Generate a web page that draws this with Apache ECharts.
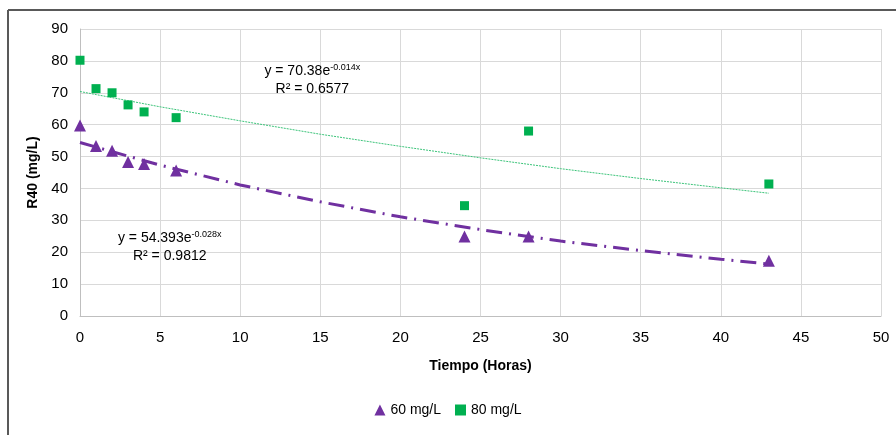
<!DOCTYPE html>
<html><head><meta charset="utf-8">
<script src="https://cdn.jsdelivr.net/npm/echarts@6/dist/echarts.min.js"></script>
<style>html,body{margin:0;padding:0;background:#fff}#c{width:896px;height:435px}</style>
</head><body><div id="c"></div>
<script>
// Data
var hours60 = [0, 1, 2, 3, 4, 6, 24, 28, 43];
var r40_60 = [59.7, 53.3, 51.8, 48.3, 47.7, 45.6, 24.9, 24.9, 17.3];
var hours80 = [0, 1, 2, 3, 4, 6, 24, 28, 43];
var r40_80 = [80.2, 71.3, 70.0, 66.2, 64.0, 62.2, 34.6, 58.0, 41.4];
// Trend lines
var trendX = [0, 5, 10, 15, 20, 25, 30, 35, 40, 43];
var trend60 = [54.4, 47.3, 41.1, 35.8, 31.1, 27.1, 23.5, 20.5, 17.8, 16.3];
var trend80 = [70.4, 65.6, 61.2, 57.0, 53.2, 49.6, 46.2, 43.1, 40.2, 38.5];
var xTicks = [0, 5, 10, 15, 20, 25, 30, 35, 40, 45, 50];
var yTicks = [0, 10, 20, 30, 40, 50, 60, 70, 80, 90];
var eq60 = ['y = 54.393e', '-0.028x', 'R² = 0.9812'];
var eq80 = ['y = 70.38e', '-0.014x', 'R² = 0.6577'];

function zip(a, b) { return a.map(function (v, i) { return [v, b[i]]; }); }
var FONT = '"Liberation Sans Narrow", "Liberation Sans", Arial, sans-serif';
var PURPLE = '#7030A0', GREEN = '#00B050';

function eqLabel(eq) {
  return {
    show: true, position: 'inside', color: '#000', fontFamily: FONT, lineHeight: 18,
    formatter: '{a|' + eq[0] + '}{s|' + eq[1] + '}\n{a|' + eq[2] + '}',
    rich: {
      a: { fontSize: 14, fontFamily: FONT, color: '#000', lineHeight: 18 },
      s: { fontSize: 9, fontFamily: FONT, color: '#000', padding: [0, 0, 7, 0], lineHeight: 18 }
    }
  };
}

var chart = echarts.init(document.getElementById('c'));
chart.setOption({
  animation: false,
  backgroundColor: '#fff',
  textStyle: { fontFamily: FONT },
  grid: { left: 80, right: 15, top: 29, bottom: 119 },
  graphic: [
    { type: 'line', shape: { x1: 8, y1: 10, x2: 896, y2: 10 }, style: { stroke: '#595959', lineWidth: 2 } },
    { type: 'line', shape: { x1: 8, y1: 10, x2: 8, y2: 435 }, style: { stroke: '#595959', lineWidth: 2 } }
  ],
  xAxis: {
    type: 'value', min: xTicks[0], max: xTicks[xTicks.length - 1], interval: 5,
    name: 'Tiempo (Horas)', nameLocation: 'middle', nameGap: 43,
    nameTextStyle: { fontFamily: FONT, fontSize: 14, fontWeight: 'bold', color: '#000' },
    axisLine: { show: true, lineStyle: { color: '#bfbfbf', width: 1 } },
    axisTick: { show: false },
    axisLabel: { color: '#000', fontSize: 15, fontFamily: FONT, margin: 14 },
    splitLine: { show: true, lineStyle: { color: '#d9d9d9', width: 1 } }
  },
  yAxis: {
    type: 'value', min: yTicks[0], max: yTicks[yTicks.length - 1], interval: 10,
    name: 'R40 (mg/L)', nameLocation: 'middle', nameGap: 38, nameRotate: 90,
    nameTextStyle: { fontFamily: FONT, fontSize: 14, fontWeight: 'bold', color: '#000' },
    axisLine: { show: true, lineStyle: { color: '#bfbfbf', width: 1 } },
    axisTick: { show: false },
    axisLabel: { color: '#000', fontSize: 15, fontFamily: FONT, margin: 12 },
    splitLine: { show: true, lineStyle: { color: '#d9d9d9', width: 1 } }
  },
  legend: {
    bottom: 13, left: 'center', itemGap: 14, itemWidth: 11, itemHeight: 11,
    textStyle: { fontFamily: FONT, fontSize: 14, color: '#000' },
    data: [{ name: '60 mg/L', icon: 'triangle' }, { name: '80 mg/L', icon: 'rect' }]
  },
  series: [
    {
      name: 'trend80', type: 'line', data: zip(trendX, trend80), showSymbol: false, symbol: 'none', silent: true,
      lineStyle: { color: '#3cc47a', width: 1, type: [2, 1] }, z: 2,
      markPoint: { symbol: 'circle', symbolSize: 0, data: [{ coord: [14.5, 73.9] }], label: eqLabel(eq80) }
    },
    {
      name: 'trend60', type: 'line', data: zip(trendX, trend60), showSymbol: false, symbol: 'none', silent: true,
      lineStyle: { color: PURPLE, width: 3, type: [16, 7, 2, 7] }, z: 2,
      markPoint: { symbol: 'circle', symbolSize: 0, data: [{ coord: [5.6, 21.5] }], label: eqLabel(eq60) }
    },
    {
      name: '60 mg/L', type: 'scatter', data: zip(hours60, r40_60), symbol: 'triangle', symbolSize: 12,
      itemStyle: { color: PURPLE, opacity: 1 }, z: 3
    },
    {
      name: '80 mg/L', type: 'scatter', data: zip(hours80, r40_80), symbol: 'rect', symbolSize: 9,
      itemStyle: { color: GREEN, opacity: 1 }, z: 3
    }
  ]
});
</script></body></html>
